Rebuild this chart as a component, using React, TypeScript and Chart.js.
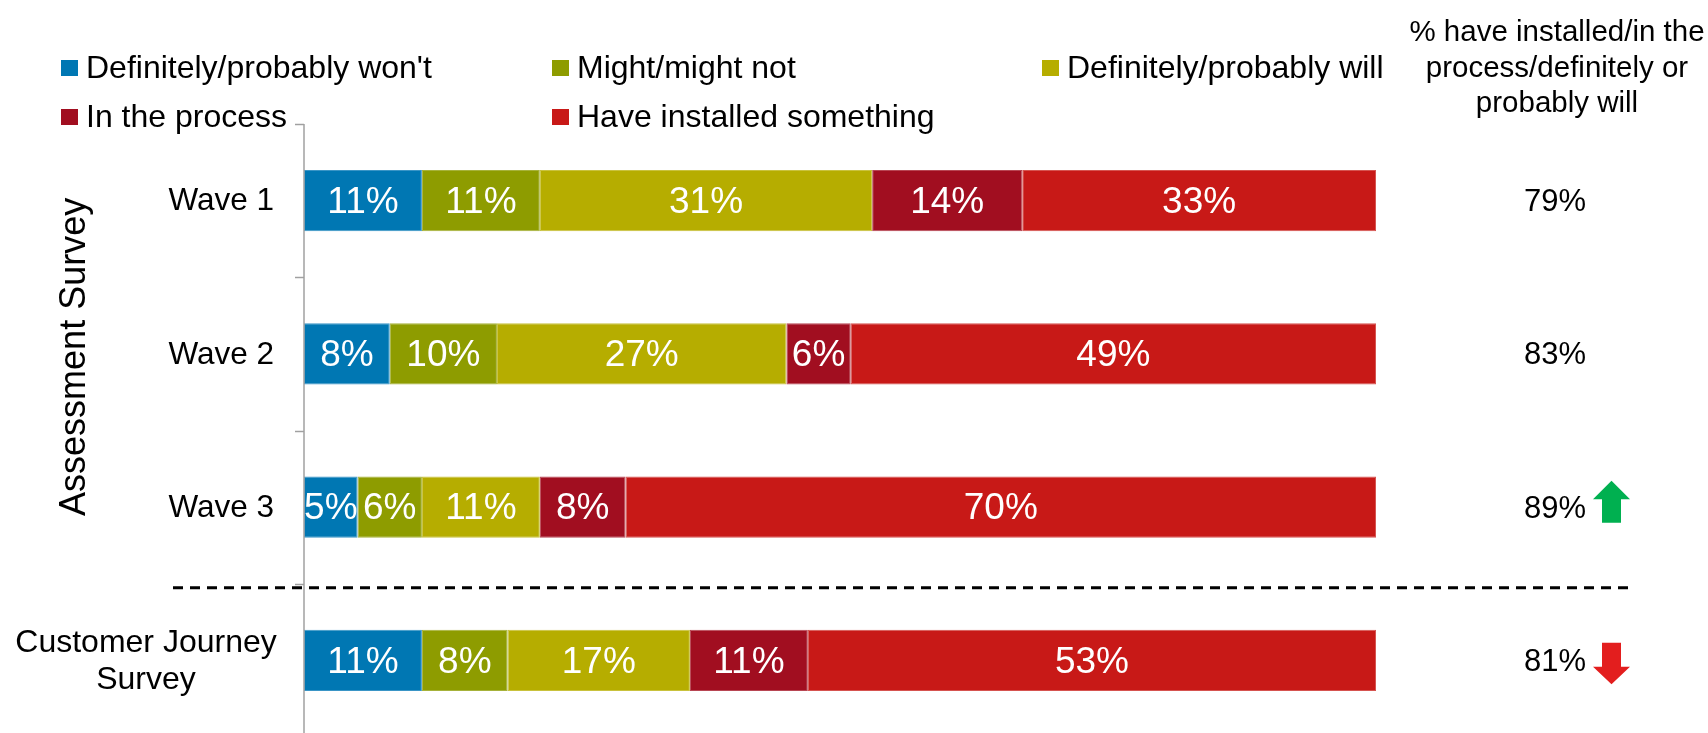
import React, { useEffect, useRef } from "react";
import { Chart, registerables } from "chart.js";

Chart.register(...registerables);

// ---------- data ----------
const categories: string[][] = [["Wave 1"], ["Wave 2"], ["Wave 3"], ["Customer Journey", "Survey"]];
const seriesNames = [
  "Definitely/probably won't",
  "Might/might not",
  "Definitely/probably will",
  "In the process",
  "Have installed something",
];
const wontValues = [11, 8, 5, 11];
const mightValues = [11, 10, 6, 8];
const willValues = [31, 27, 11, 17];
const inProcessValues = [14, 6, 8, 11];
const installedValues = [33, 49, 70, 53];
const totalValues = [79, 83, 89, 81];
const trendValues = [0, 0, 1, -1];
const groupTitle = "Assessment Survey";
const totalsHeader = ["% have installed/in the", "process/definitely or", "probably will"];

const seriesColors = ["#0077B3", "#8E9C00", "#B6AD00", "#A10E20", "#C81917"];
const seriesBorders = ["#3A95C6", "#A6B23A", "#C9C23D", "#B84653", "#D65450"];

const FONT = "'Liberation Sans', Arial, Helvetica, sans-serif";

const overlayPlugin = {
  id: "overlay",
  afterDatasetsDraw(chart: any) {
    const ctx = chart.ctx as CanvasRenderingContext2D;
    ctx.save();
    ctx.fillStyle = "#FFFFFF";
    ctx.font = `37px ${FONT}`;
    ctx.textAlign = "center";
    ctx.textBaseline = "middle";
    chart.data.datasets.forEach((ds: any, di: number) => {
      const meta = chart.getDatasetMeta(di);
      meta.data.forEach((bar: any, i: number) => {
        const v = ds.data[i];
        const cx = (bar.x + bar.base) / 2;
        ctx.fillText(`${v}%`, cx, bar.y + 2);
      });
    });
    ctx.restore();
  },
  afterDraw(chart: any) {
    const ctx = chart.ctx as CanvasRenderingContext2D;
    const area = chart.chartArea;
    const yScale = chart.scales.y;
    const n = categories.length;
    const step = yScale.getPixelForValue(1) - yScale.getPixelForValue(0);

    ctx.save();
    // axis line
    ctx.strokeStyle = "#A0A0A0";
    ctx.lineWidth = 1.5;
    ctx.beginPath();
    ctx.moveTo(area.left, area.top);
    ctx.lineTo(area.left, chart.height);
    ctx.stroke();
    for (let i = 0; i <= n; i++) {
      const y = yScale.getPixelForValue(i) - step / 2;
      ctx.beginPath();
      ctx.moveTo(area.left - 9, Math.round(y) + 0.5);
      ctx.lineTo(area.left, Math.round(y) + 0.5);
      ctx.stroke();
    }

    // dashed separator
    const sepY = yScale.getPixelForValue(n - 1) - step / 2 + 4;
    ctx.strokeStyle = "#000000";
    ctx.lineWidth = 3;
    ctx.setLineDash([10, 7]);
    ctx.beginPath();
    ctx.moveTo(173, sepY);
    ctx.lineTo(1632, sepY);
    ctx.stroke();
    ctx.setLineDash([]);

    // category labels
    ctx.fillStyle = "#000000";
    ctx.font = `31.5px ${FONT}`;
    ctx.textBaseline = "middle";
    categories.forEach((lines, i) => {
      const cy = yScale.getPixelForValue(i);
      if (lines.length === 1) {
        ctx.textAlign = "right";
        ctx.fillText(lines[0], area.left - 30, cy + 1);
      } else {
        ctx.font = `32px ${FONT}`;
        ctx.textAlign = "center";
        const lh = 37;
        lines.forEach((ln, k) => {
          ctx.fillText(ln, 146, cy + 1 + (k - (lines.length - 1) / 2) * lh);
        });
      }
    });

    // group title (rotated)
    const gTop = yScale.getPixelForValue(0) - step / 2;
    const gBot = yScale.getPixelForValue(n - 2) + step / 2;
    ctx.save();
    ctx.translate(75, (gTop + gBot) / 2 + 3);
    ctx.rotate(-Math.PI / 2);
    ctx.font = `36px ${FONT}`;
    ctx.textAlign = "center";
    ctx.textBaseline = "middle";
    ctx.fillText(groupTitle, 0, 0);
    ctx.restore();

    // legend
    const legendPos = [
      [61, 68],
      [552, 68],
      [1042, 68],
      [61, 117],
      [552, 117],
    ];
    ctx.font = `32px ${FONT}`;
    ctx.textAlign = "left";
    ctx.textBaseline = "middle";
    seriesNames.forEach((name, i) => {
      const [lx, ly] = legendPos[i];
      ctx.fillStyle = seriesColors[i];
      ctx.fillRect(lx, ly - 8, 17, 16);
      ctx.fillStyle = "#000000";
      ctx.fillText(name, lx + 25, ly + 1);
    });

    // totals header
    ctx.font = `29.5px ${FONT}`;
    ctx.textAlign = "center";
    ctx.textBaseline = "middle";
    totalsHeader.forEach((ln, k) => {
      ctx.fillText(ln, 1557, 33 + k * 35.5);
    });

    // totals + arrows
    ctx.font = `31px ${FONT}`;
    ctx.textBaseline = "middle";
    totalValues.forEach((v, i) => {
      const cy = yScale.getPixelForValue(i);
      ctx.fillStyle = "#000000";
      ctx.fillText(`${v}%`, 1555, cy + 2);
      const t = trendValues[i];
      const x0 = 1593;
      const w = 37;
      const sx0 = 1602;
      const sw = 19;
      if (t > 0) {
        ctx.fillStyle = "#00B050";
        ctx.beginPath();
        ctx.moveTo(x0, cy - 7.8);
        ctx.lineTo(x0 + w / 2, cy - 26.4);
        ctx.lineTo(x0 + w, cy - 7.8);
        ctx.lineTo(sx0 + sw, cy - 7.8);
        ctx.lineTo(sx0 + sw, cy + 15.6);
        ctx.lineTo(sx0, cy + 15.6);
        ctx.lineTo(sx0, cy - 7.8);
        ctx.closePath();
        ctx.fill();
      } else if (t < 0) {
        ctx.fillStyle = "#E31E1E";
        ctx.beginPath();
        ctx.moveTo(sx0, cy - 17.7);
        ctx.lineTo(sx0 + sw, cy - 17.7);
        ctx.lineTo(sx0 + sw, cy + 6.3);
        ctx.lineTo(x0 + w, cy + 6.3);
        ctx.lineTo(x0 + w / 2, cy + 23.9);
        ctx.lineTo(x0, cy + 6.3);
        ctx.lineTo(sx0, cy + 6.3);
        ctx.closePath();
        ctx.fill();
      }
    });
    ctx.restore();
  },
};

export default function App() {
  const canvasRef = useRef<HTMLCanvasElement | null>(null);

  useEffect(() => {
    if (!canvasRef.current) return;
    const seriesValues = [wontValues, mightValues, willValues, inProcessValues, installedValues];
    const chart = new Chart(canvasRef.current, {
      type: "bar",
      data: {
        labels: categories.map((c) => c.join(" ")),
        datasets: seriesNames.map((name, i) => ({
          label: name,
          data: seriesValues[i],
          backgroundColor: seriesColors[i],
          borderColor: seriesBorders[i],
          borderWidth: 1,
          borderSkipped: false,
          barPercentage: 0.4,
          categoryPercentage: 1,
        })),
      },
      options: {
        indexAxis: "y",
        responsive: false,
        devicePixelRatio: 1,
        animation: false,
        layout: { padding: { left: 304, right: 332, top: 124, bottom: 3 } },
        plugins: {
          legend: { display: false },
          tooltip: { enabled: false },
        },
        scales: {
          x: { stacked: true, min: 0, max: 100, display: false },
          y: { stacked: true, display: false },
        },
      },
      plugins: [overlayPlugin],
    } as any);
    return () => chart.destroy();
  }, []);

  return (
    <div
      style={{
        position: "fixed",
        left: 0,
        top: 0,
        width: 1708,
        height: 733,
        overflow: "hidden",
        background: "#FFFFFF",
      }}
    >
      <canvas ref={canvasRef} width={1708} height={740} style={{ display: "block" }} />
    </div>
  );
}
